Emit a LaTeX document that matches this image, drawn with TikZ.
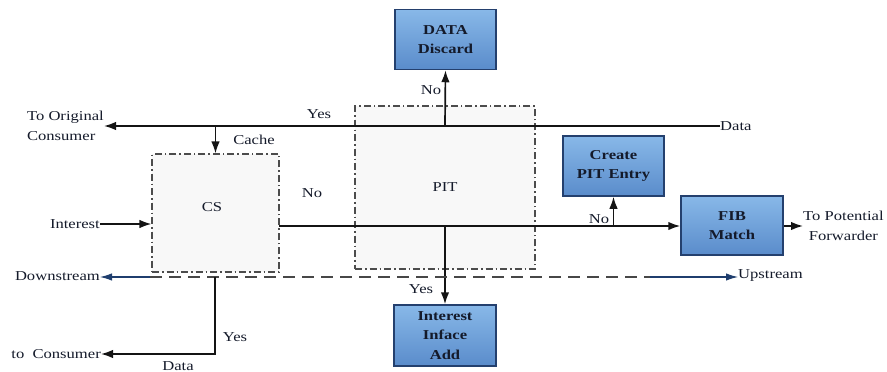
\documentclass[tikz,border=0pt]{standalone}
\usepackage{fontspec}
\setmainfont[FakeStretch=1.22]{Liberation Serif}
\usetikzlibrary{arrows.meta}

\definecolor{boxtop}{HTML}{88B8E8}
\definecolor{boxbot}{HTML}{5A8CCB}
\definecolor{boxedge}{HTML}{24406E}
\definecolor{navyline}{HTML}{1F3E6E}
\definecolor{regionfill}{HTML}{F8F8F8}
\definecolor{inktext}{HTML}{141A2A}

\tikzset{
  procbox/.style={draw=boxedge, line width=1.5pt, top color=boxtop, bottom color=boxbot,
    minimum width=101pt, minimum height=60pt, inner sep=0pt, align=center,
    font=\fontsize{13.6}{19.5}\selectfont\bfseries, text=inktext},
  region/.style={draw=black!70, line width=1.1pt, fill=regionfill,
    dash pattern=on 7pt off 3pt on 1.5pt off 3pt, inner sep=0pt},
  lbl/.style={inner sep=0pt, font=\fontsize{13.6}{20}\selectfont, text=inktext},
  flow/.style={line width=1.7pt, draw=black!92, -{Latex[length=12pt,width=8.5pt]}},
  navyflow/.style={line width=1.2pt, draw=navyline, -{Latex[length=12pt,width=7.5pt]}},
  dashline/.style={line width=1.4pt, draw=black!72, dash pattern=on 12pt off 7pt},
}

\begin{document}
\begin{tikzpicture}[x=1pt,y=-1pt]
  \useasboundingbox (0,0) rectangle (887,372);

  % dash-dot regions
  \node[region, minimum width=127pt, minimum height=118pt] (cs) at (215.5,213) {};
  \node[region, minimum width=180pt, minimum height=163pt] (pit) at (445,187.5) {};
  \node[lbl] (cslbl) at (212,207) {CS};
  \node[lbl] (pitlbl) at (445,187) {PIT};

  % processing boxes
  \node[procbox] (discard) at (445.5,39.5) {DATA\\Discard};
  \node[procbox] (create) at (613.5,166) {Create\\PIT Entry};
  \node[procbox, minimum width=102pt, minimum height=59pt] (fib) at (732,225.5) {FIB\\Match};
  \node[procbox, minimum width=102pt, minimum height=61pt] (inface) at (445,335.5) {Interest\\Inface\\Add};

  % end labels
  \node[lbl, align=left, anchor=east] (toorig) at (104,126) {To Original\\Consumer};
  \node[lbl, anchor=west] (datain) at (720,126) {Data};
  \node[lbl, anchor=east] (interest) at (100,224) {Interest};
  \node[lbl, anchor=east] (down) at (100,276) {Downstream};
  \node[lbl, anchor=west] (up) at (738,275) {Upstream};
  \node[lbl, anchor=east] (tocons) at (101,354) {to~~Consumer};
  \node[lbl, align=center, anchor=west] (topot) at (803,226) {To Potential\\Forwarder};

  % branch labels
  \node[lbl] (yes1) at (319,114) {Yes};
  \node[lbl] (no1) at (431,90) {No};
  \node[lbl] (cache) at (254,140) {Cache};
  \node[lbl] (no2) at (312,193) {No};
  \node[lbl] (no3) at (599,219) {No};
  \node[lbl] (yes2) at (421,289) {Yes};
  \node[lbl] (yes3) at (235,337) {Yes};
  \node[lbl] (datalbl) at (178,366) {Data};

  % junction points
  \coordinate (jdisc) at (445,126);
  \coordinate (jcache) at (215.5,126);
  \coordinate (csout) at (279,226);
  \coordinate (jadd) at (445,226);
  \coordinate (jcreate) at (613.5,226);
  \coordinate (dl) at (150,277);
  \coordinate (dr) at (650,277);
  \coordinate (jcons) at (215,277);
  \coordinate (bend) at (215,354);

  % data path
  \draw[flow] (datain.west) -- (toorig.east);
  \draw[flow] (jdisc) -- (discard.south);
  \draw[flow] (jcache) -- (cs.north);

  % interest path
  \draw[flow] (interest.east) -- (cs.west |- interest.east);
  \draw[flow] (csout) -- (fib.west |- csout);
  \draw[flow] (jadd) -- (inface.north);
  \draw[flow] (jcreate) -- (create.south);
  \draw[flow] (fib.east |- topot.west) -- (topot.west);

  % downstream / upstream
  \draw[dashline] (dl) -- (dr);
  \draw[navyflow] (dl) -- (down.east |- dl);
  \draw[navyflow] (dr) -- (up.west |- dr);

  % cached data back to consumer
  \draw[flow] (jcons) -- (bend) -- (tocons.east |- bend);
\end{tikzpicture}
\end{document}
